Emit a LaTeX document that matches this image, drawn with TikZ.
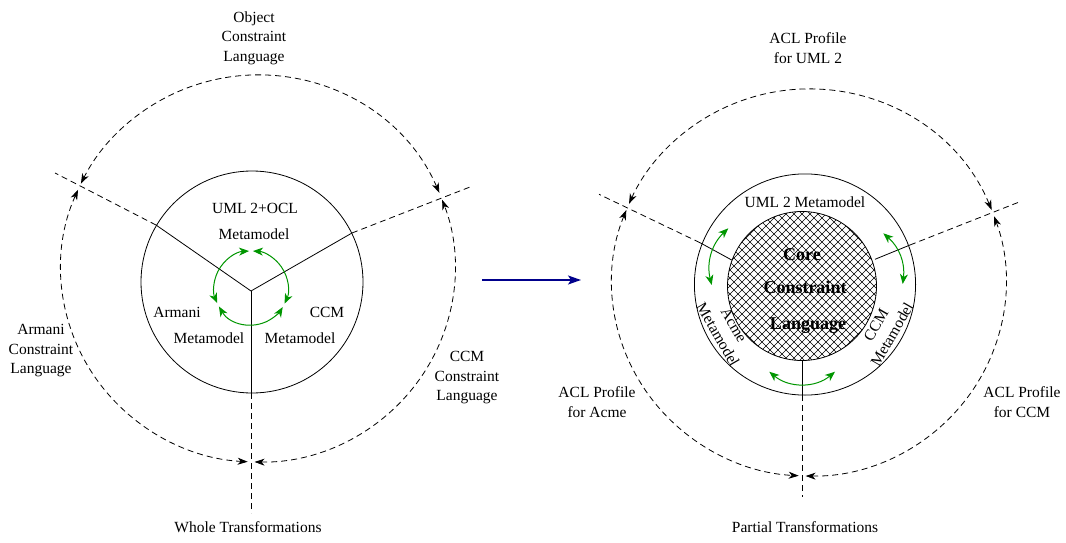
\documentclass[tikz,border=0pt]{standalone}
\usepackage{fontspec}
\setmainfont{Liberation Serif}
\usetikzlibrary{arrows.meta,calc}
\definecolor{arrgreen}{RGB}{0,150,0}
\definecolor{navyblue}{RGB}{0,0,140}
\begin{document}
\begin{tikzpicture}[x=1pt,y=1pt,
  lbl/.style={font=\fontsize{15.5}{19.5}\selectfont, inner sep=0pt, align=center},
  rotlbl/.style={font=\fontsize{15.5}{18.5}\selectfont, inner sep=0pt, align=center},
  corelbl/.style={font=\bfseries\fontsize{18}{22}\selectfont, inner sep=0pt},
  solidline/.style={line width=0.8pt},
  dashline/.style={line width=0.8pt, dash pattern=on 6pt off 4pt},
  hatchline/.style={line width=0.5pt},
  blkheads/.style={{Stealth[length=10pt,width=7pt,inset=3pt]}-{Stealth[length=10pt,width=7pt,inset=3pt]}},
  grnheads/.style={arrgreen, line width=1pt, {Stealth[length=10pt,width=8pt,inset=3pt]}-{Stealth[length=10pt,width=8pt,inset=3pt]}},
  bigarrow/.style={navyblue, line width=1.6pt, -{Stealth[length=13pt,width=9pt,inset=3pt]}}
]
\useasboundingbox (0,0) rectangle (1066,-543);

% ---------------- LEFT DIAGRAM ----------------
\coordinate (LJ) at (251,-291);
\coordinate (LPl) at (156,-225);
\coordinate (LPr) at (352,-233);
\coordinate (LPb) at (251,-393);
\coordinate (LEl) at (55,-173);
\coordinate (LEr) at (470,-187);
\coordinate (LEb) at (251,-513);

\node[draw, circle, solidline, minimum size=222pt, inner sep=0pt] (Linner) at (252,-282) {};
\draw[solidline] (LJ) -- (LPl);
\draw[solidline] (LJ) -- (LPr);
\draw[solidline] (LJ) -- (LPb);
\draw[dashline] (LPl) -- (LEl);
\draw[dashline] (LPr) -- (LEr);
\draw[dashline] (LPb) -- (LEb);

\begin{scope}[shift={(258,-268.5)}]
  \draw[dashline, blkheads] (23:197 and 193.5) arc[start angle=23, end angle=154, x radius=197, y radius=193.5];
  \draw[dashline, blkheads] (156:197 and 193.5) arc[start angle=156, end angle=267, x radius=197, y radius=193.5];
  \draw[dashline, blkheads] (269:197 and 193.5) arc[start angle=269, end angle=380.8, x radius=197, y radius=193.5];
\end{scope}

\begin{scope}[shift={(251,-288)}]
  \draw[grnheads] (93:37) arc[start angle=93, end angle=204, radius=37];
  \draw[grnheads] (210:37) arc[start angle=210, end angle=329, radius=37];
  \draw[grnheads] (335:37) arc[start angle=335, end angle=447, radius=37];
\end{scope}

\node[lbl] (ocl) at (254,-38) {Object\\Constraint\\Language};
\node[lbl] (umlocl) at (255,-208) {UML 2+OCL};
\node[lbl] (umlmm) at (254,-234) {Metamodel};
\node[lbl] (armani) at (177,-312) {Armani};
\node[lbl] (armmm) at (209,-338) {Metamodel};
\node[lbl] (ccm) at (327,-312) {CCM};
\node[lbl] (ccmmm) at (300,-338) {Metamodel};
\node[lbl] (acl) at (41,-351) {Armani\\Constraint\\Language};
\node[lbl] (cclang) at (467,-378) {CCM\\Constraint\\Language};
\node[lbl] (whole) at (248,-527) {Whole Transformations};

% ---------------- ARROW ----------------
\coordinate (BA) at (482,-280);
\coordinate (BB) at (581,-280);
\draw[bigarrow] (BA) -- (BB);

% ---------------- RIGHT DIAGRAM ----------------
\coordinate (RPl) at (700,-242.7);
\coordinate (RQl) at (731.7,-260);
\coordinate (RPr) at (910,-245);
\coordinate (RQr) at (875,-259.3);
\coordinate (RPb) at (802.3,-395);
\coordinate (RQb) at (802.3,-360.5);
\coordinate (REl) at (599,-194.3);
\coordinate (REr) at (1020,-201.7);
\coordinate (REb) at (802.3,-497);

\begin{scope}
  \clip (802,-286) circle[radius=74.5];
  \foreach \c in {-160,-152,...,160} {
    \draw[hatchline] (802+\c-80,-366) -- ++(160,160);
    \draw[hatchline] (802+\c-80,-206) -- ++(160,-160);
  }
\end{scope}
\node[draw, circle, solidline, minimum size=149pt, inner sep=0pt] (Rcore) at (802,-286) {};
\node[draw, circle, solidline, minimum size=221.2pt, inner sep=0pt] (Rmid) at (805,-284.5) {};

\draw[solidline] (RQl) -- (RPl);
\draw[solidline] (RQr) -- (RPr);
\draw[solidline] (RQb) -- (RPb);
\draw[dashline] (RPl) -- (REl);
\draw[dashline] (RPr) -- (REr);
\draw[dashline] (RPb) -- (REb);

\begin{scope}[shift={(809,-282.5)}]
  \draw[dashline, blkheads] (22:197 and 193.5) arc[start angle=22, end angle=156, x radius=197, y radius=193.5];
  \draw[dashline, blkheads] (158:197 and 193.5) arc[start angle=158, end angle=267, x radius=197, y radius=193.5];
  \draw[dashline, blkheads] (269:197 and 193.5) arc[start angle=269, end angle=380, x radius=197, y radius=193.5];
\end{scope}

\coordinate (GLa) at (711.7,-285);
\coordinate (GLb) at (728.3,-228.3);
\coordinate (GRa) at (883.3,-233.3);
\coordinate (GRb) at (902.7,-284);
\coordinate (GBa) at (769.3,-371.7);
\coordinate (GBb) at (835,-371.7);
\draw[grnheads] (GLa) to[bend left=30] (GLb);
\draw[grnheads] (GRa) to[bend left=28] (GRb);
\draw[grnheads] (GBa) to[bend right=40] (GBb);

\node[corelbl] (core1) at (802,-255) {Core};
\node[corelbl] (core2) at (805,-287) {Constraint};
\node[corelbl] (core3) at (808,-326) {Language};

\node[lbl] (uml2mm) at (805,-202) {UML 2 Metamodel};
\node[rotlbl, rotate=-60] (acmemm) at (726,-330) {Acme\\Metamodel};
\node[rotlbl, rotate=60] (ccmmm2) at (884,-330) {CCM\\Metamodel};

\node[lbl] (aclu) at (808,-48) {ACL Profile\\for UML 2};
\node[lbl] (acla) at (597,-402) {ACL Profile\\for Acme};
\node[lbl] (aclc) at (1022,-402) {ACL Profile\\for CCM};
\node[lbl] (partial) at (805,-527) {Partial Transformations};
\end{tikzpicture}
\end{document}
